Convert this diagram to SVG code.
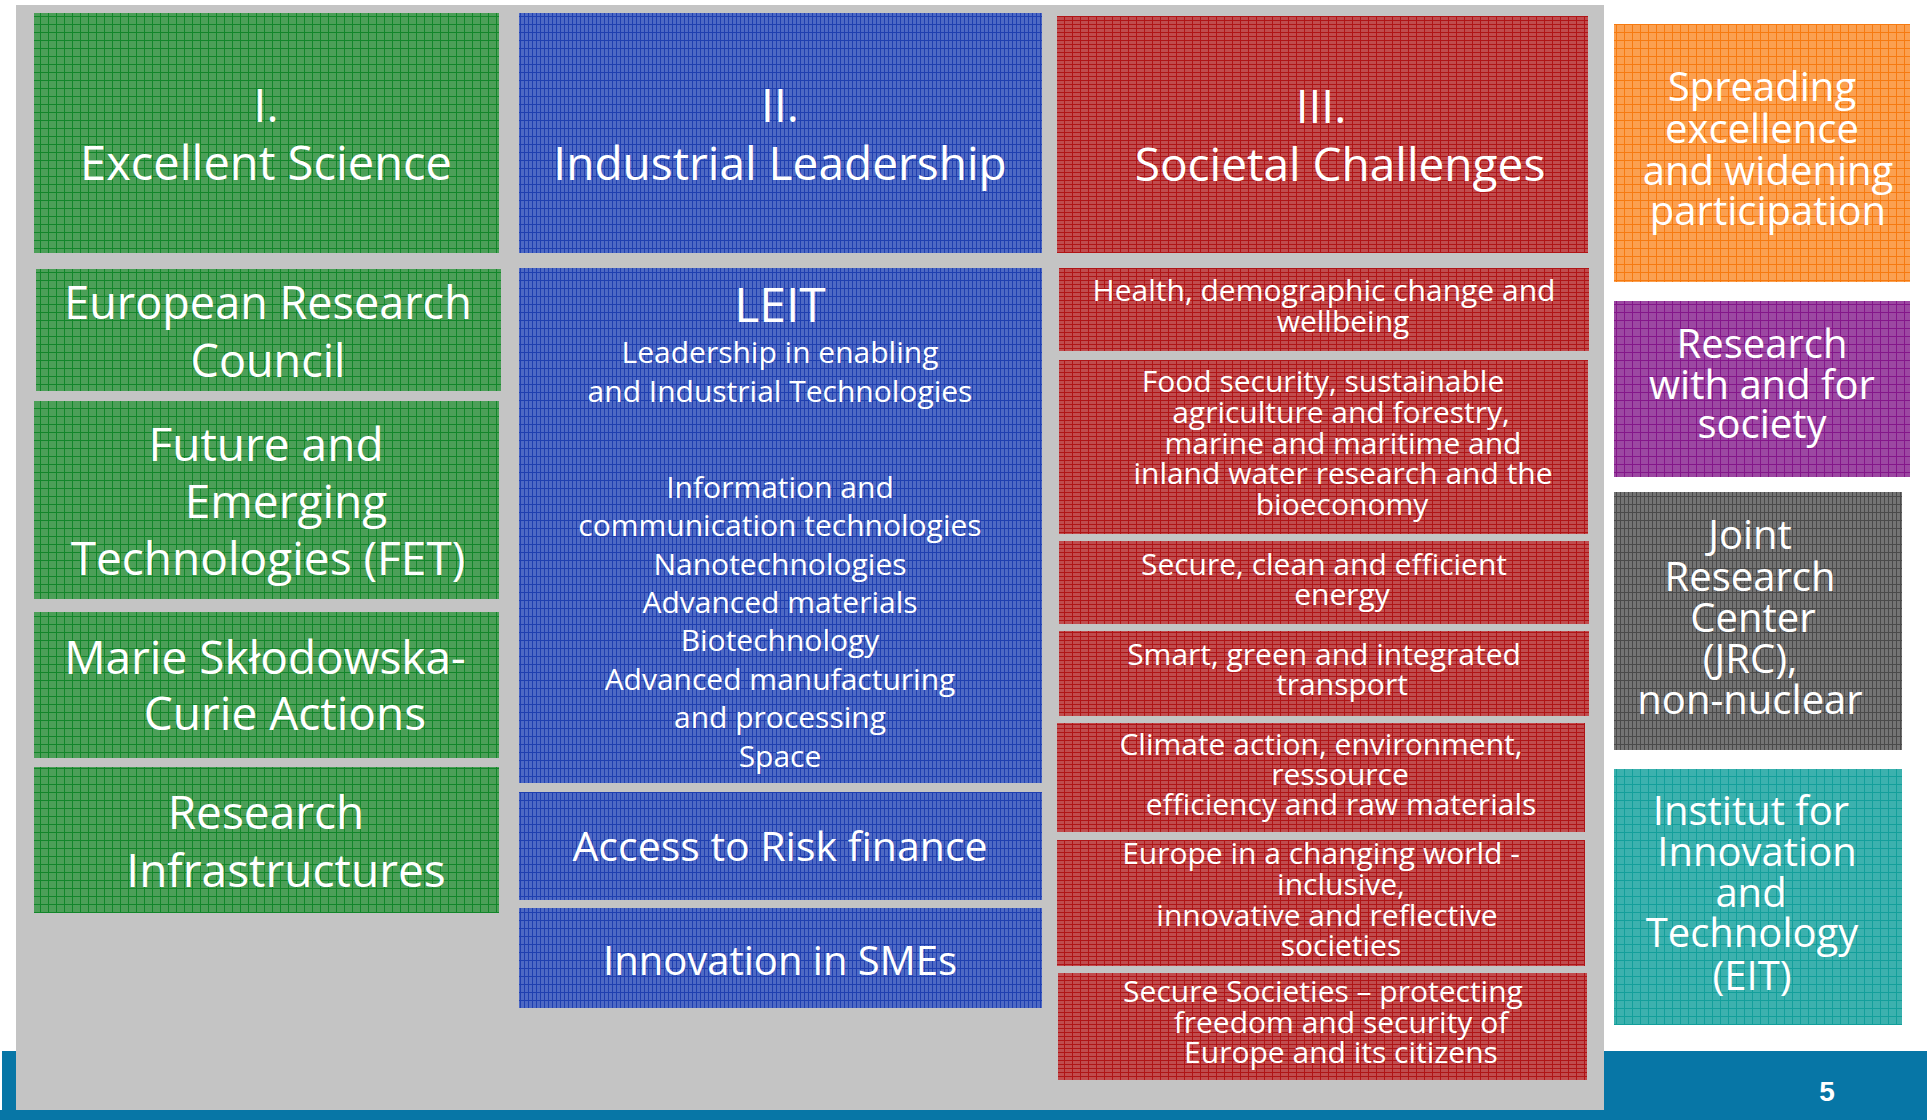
<svg xmlns="http://www.w3.org/2000/svg" width="1927" height="1120" viewBox="0 0 1927 1120">
<style>
.t{font-family:"Open Sans","Liberation Sans",sans-serif;fill:#ffffff;text-anchor:middle}
.h{font-size:46px}
.m{font-size:30px}
.r{font-size:40px}
</style>
<defs>
<pattern id="pg" width="8" height="8" patternUnits="userSpaceOnUse"><rect width="8" height="8" fill="#4c9f58"/><path d="M0 0.5H8M0.5 0V8" stroke="#12862a" stroke-width="1"/></pattern>
<pattern id="pb" width="8" height="8" patternUnits="userSpaceOnUse"><rect width="8" height="8" fill="#4e69c4"/><path d="M0 0.5H8M0.5 0V8M4.5 0V8" stroke="#1f3fb0" stroke-width="1"/></pattern>
<pattern id="pr" width="8" height="8" patternUnits="userSpaceOnUse"><rect width="8" height="8" fill="#c04c4e"/><path d="M0 0.5H8M0.5 0V8M0 4.5H8" stroke="#b01416" stroke-width="1"/></pattern>
<pattern id="po" width="8" height="8" patternUnits="userSpaceOnUse"><rect width="8" height="8" fill="#fba050"/><path d="M0 0.5H8M0.5 0V8" stroke="#f67a10" stroke-width="1"/></pattern>
<pattern id="pp" width="8" height="8" patternUnits="userSpaceOnUse"><rect width="8" height="8" fill="#9c48a2"/><path d="M0 0.5H8M0.5 0V8" stroke="#84168a" stroke-width="1"/></pattern>
<pattern id="pk" width="8" height="8" patternUnits="userSpaceOnUse"><rect width="8" height="8" fill="#747474"/><path d="M0 0.5H8M0.5 0V8M4.5 0V8" stroke="#4a4a4a" stroke-width="1"/></pattern>
<pattern id="pt" width="8" height="8" patternUnits="userSpaceOnUse"><rect width="8" height="8" fill="#3cb1ae"/><path d="M0 0.5H8M0.5 0V8" stroke="#139f9b" stroke-width="1"/></pattern>
</defs>
<rect width="1927" height="1120" fill="#ffffff"/>
<g id="frame">
<rect x="16" y="5" width="1588" height="1105" fill="#c4c4c4"/>
<rect x="1604" y="1051" width="323" height="69" fill="#0776a6"/>
<rect x="2" y="1051" width="14" height="69" fill="#0776a6"/>
<rect x="0" y="1110" width="1927" height="10" fill="#0776a6"/>
<text x="1827" y="1101" style="font-family:'Liberation Sans',Arial,sans-serif;font-weight:bold;font-size:28px;fill:#fff;text-anchor:middle">5</text>
</g>
<g id="excellent-science">
<rect x="34" y="13" width="465" height="240" fill="url(#pg)"/>
<text class="t h" x="266" y="122">I.</text>
<text class="t" x="266" y="180" style="font-size:47px">Excellent Science</text>
</g>
<g id="erc">
<rect x="36" y="269" width="465" height="122" fill="url(#pg)"/>
<text class="t" x="268" y="319" style="font-size:45px">European Research</text>
<text class="t" x="268" y="377" style="font-size:45px">Council</text>
</g>
<g id="fet">
<rect x="34" y="401" width="465" height="198" fill="url(#pg)"/>
<text class="t h" x="266" y="461">Future and</text>
<text class="t h" x="286" y="518">Emerging</text>
<text class="t h" x="268" y="575">Technologies (FET)</text>
</g>
<g id="msca">
<rect x="34" y="612" width="465" height="146" fill="url(#pg)"/>
<text class="t h" x="265" y="674">Marie Skłodowska-</text>
<text class="t h" x="285" y="730">Curie Actions</text>
</g>
<g id="ri">
<rect x="34" y="767" width="465" height="146" fill="url(#pg)"/>
<text class="t h" x="266" y="829">Research</text>
<text class="t h" x="286" y="887">Infrastructures</text>
</g>
<g id="industrial-leadership">
<rect x="519" y="13" width="523" height="240" fill="url(#pb)"/>
<text class="t h" x="780" y="122">II.</text>
<text class="t h" x="780" y="180">Industrial Leadership</text>
</g>
<g id="leit">
<rect x="519" y="268" width="523" height="515" fill="url(#pb)"/>
<text class="t" x="780" y="322" style="font-size:48px">LEIT</text>
<text class="t m" x="780" y="363">Leadership in enabling</text>
<text class="t m" x="780" y="402">and Industrial Technologies</text>
<text class="t m" x="780" y="498">Information and</text>
<text class="t m" x="780" y="536">communication technologies</text>
<text class="t m" x="780" y="575">Nanotechnologies</text>
<text class="t m" x="780" y="613">Advanced materials</text>
<text class="t m" x="780" y="651">Biotechnology</text>
<text class="t m" x="780" y="690">Advanced manufacturing</text>
<text class="t m" x="780" y="728">and processing</text>
<text class="t m" x="780" y="767">Space</text>
</g>
<g id="risk-finance">
<rect x="519" y="792" width="523" height="108" fill="url(#pb)"/>
<text class="t" x="780" y="861" style="font-size:41px">Access to Risk finance</text>
</g>
<g id="smes">
<rect x="519" y="908" width="523" height="100" fill="url(#pb)"/>
<text class="t" x="780" y="975" style="font-size:40px">Innovation in SMEs</text>
</g>
<g id="societal-challenges">
<rect x="1057" y="16" width="531" height="237" fill="url(#pr)"/>
<text class="t h" x="1321" y="123">III.</text>
<text class="t h" x="1340" y="181">Societal Challenges</text>
</g>
<g id="health">
<rect x="1059" y="268" width="530" height="83" fill="url(#pr)"/>
<text class="t m" x="1324" y="301">Health, demographic change and</text>
<text class="t m" x="1343" y="332">wellbeing</text>
</g>
<g id="food">
<rect x="1059" y="360" width="529" height="174" fill="url(#pr)"/>
<text class="t m" x="1323" y="392">Food security, sustainable</text>
<text class="t m" x="1341" y="423">agriculture and forestry,</text>
<text class="t m" x="1343" y="454">marine and maritime and</text>
<text class="t m" x="1343" y="484">inland water research and the</text>
<text class="t m" x="1342" y="515">bioeconomy</text>
</g>
<g id="energy">
<rect x="1059" y="541" width="530" height="83" fill="url(#pr)"/>
<text class="t m" x="1324" y="575">Secure, clean and efficient</text>
<text class="t m" x="1342" y="605">energy</text>
</g>
<g id="transport">
<rect x="1059" y="631" width="530" height="85" fill="url(#pr)"/>
<text class="t m" x="1324" y="665">Smart, green and integrated</text>
<text class="t m" x="1342" y="695">transport</text>
</g>
<g id="climate">
<rect x="1057" y="723" width="528" height="109" fill="url(#pr)"/>
<text class="t m" x="1321" y="755">Climate action, environment,</text>
<text class="t m" x="1340" y="785">ressource</text>
<text class="t m" x="1341" y="815">efficiency and raw materials</text>
</g>
<g id="europe">
<rect x="1057" y="840" width="528" height="126" fill="url(#pr)"/>
<text class="t m" x="1321" y="864">Europe in a changing world -</text>
<text class="t m" x="1341" y="895">inclusive,</text>
<text class="t m" x="1327" y="926">innovative and reflective</text>
<text class="t m" x="1341" y="956">societies</text>
</g>
<g id="secure-societies">
<rect x="1058" y="973" width="529" height="107" fill="url(#pr)"/>
<text class="t m" x="1323" y="1002">Secure Societies – protecting</text>
<text class="t m" x="1341" y="1033">freedom and security of</text>
<text class="t m" x="1341" y="1063">Europe and its citizens</text>
</g>
<g id="spreading-excellence">
<rect x="1614" y="24" width="296" height="258" fill="url(#po)"/>
<text class="t r" x="1762" y="101">Spreading</text>
<text class="t r" x="1762" y="143">excellence</text>
<text class="t r" x="1768" y="185">and widening</text>
<text class="t r" x="1768" y="225">participation</text>
</g>
<g id="research-society">
<rect x="1614" y="301" width="296" height="176" fill="url(#pp)"/>
<text class="t r" x="1762" y="358">Research</text>
<text class="t r" x="1762" y="399">with and for</text>
<text class="t r" x="1762" y="438">society</text>
</g>
<g id="jrc">
<rect x="1614" y="492" width="288" height="258" fill="url(#pk)"/>
<text class="t r" x="1750" y="549">Joint</text>
<text class="t r" x="1750" y="591">Research</text>
<text class="t r" x="1753" y="632">Center</text>
<text class="t r" x="1750" y="673">(JRC),</text>
<text class="t r" x="1750" y="714">non-nuclear</text>
</g>
<g id="eit">
<rect x="1614" y="769" width="288" height="256" fill="url(#pt)"/>
<text class="t r" x="1751" y="825">Institut for</text>
<text class="t r" x="1757" y="866">Innovation</text>
<text class="t r" x="1751" y="907">and</text>
<text class="t r" x="1752" y="947">Technology</text>
<text class="t r" x="1752" y="990">(EIT)</text>
</g>
</svg>
